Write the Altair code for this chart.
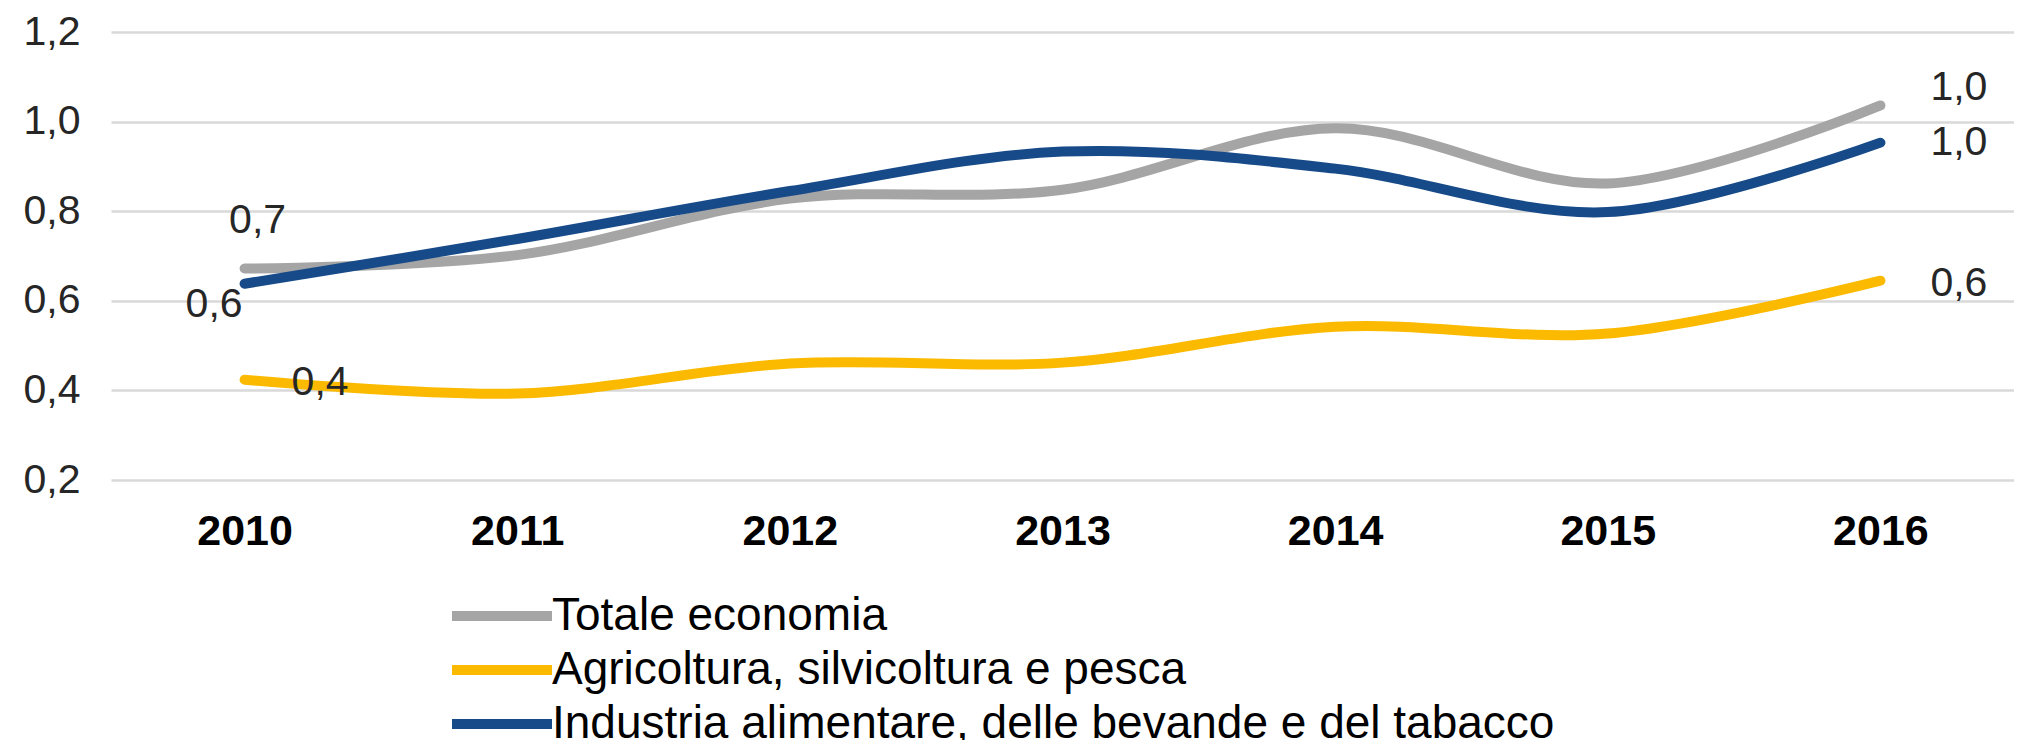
import altair as alt
import pandas as pd

years = ["2010", "2011", "2012", "2013", "2014", "2015", "2016"]
series_names = [
    "Totale economia",
    "Agricoltura, silvicoltura e pesca",
    "Industria alimentare, delle bevande e del tabacco",
]
totale = [0.672, 0.702, 0.828, 0.848, 0.985, 0.862, 1.036]
agricoltura = [0.424, 0.393, 0.460, 0.462, 0.542, 0.527, 0.645]
industria = [0.638, 0.738, 0.845, 0.933, 0.895, 0.798, 0.953]
colors = ["#A5A5A5", "#FBBA00", "#174A88"]
y_ticks = [0.2, 0.4, 0.6, 0.8, 1.0, 1.2]

rows = []
for name, vals in zip(series_names, [totale, agricoltura, industria]):
    for yr, v in zip(years, vals):
        rows.append({"anno": yr, "serie": name, "valore": v})
df = pd.DataFrame(rows)

FONT = "Liberation Sans"

x_enc = alt.X(
    "anno:O",
    sort=years,
    scale=alt.Scale(type="point", padding=0.49),
    axis=alt.Axis(
        title=None, labelAngle=0, domain=False, ticks=False, grid=False,
        labelFont=FONT, labelFontSize=43, labelFontWeight="bold",
        labelColor="#000000", labelPadding=30,
    ),
)
y_enc = alt.Y(
    "valore:Q",
    scale=alt.Scale(domain=[0.2, 1.2], nice=False, zero=False),
    axis=alt.Axis(
        title=None, values=y_ticks, domain=False, ticks=False,
        gridColor="#D9D9D9", gridWidth=2.5,
        labelFont=FONT, labelFontSize=41, labelColor="#262626", labelPadding=31,
        labelExpr="replace(format(datum.value, '.1f'), '.', ',')",
    ),
)

lines = alt.Chart(df).mark_line(
    interpolate="catmull-rom", strokeWidth=10, strokeCap="round"
).encode(
    x=x_enc,
    y=y_enc,
    color=alt.Color(
        "serie:N",
        scale=alt.Scale(domain=series_names, range=colors),
        sort=series_names,
        legend=alt.Legend(
            title=None, orient="none", legendX=368, legendY=561,
            direction="vertical",
            symbolType="M-5,0H5", symbolSize=400, symbolStrokeWidth=10,
            labelFont=FONT, labelFontSize=46, labelColor="#000000",
            labelOffset=27, labelLimit=2000, rowPadding=8, padding=0,
        ),
    ),
)

def label_layer(serie, anno, align, dx, dy):
    return alt.Chart(df).transform_filter(
        (alt.datum.serie == serie) & (alt.datum.anno == anno)
    ).transform_calculate(
        lab="replace(format(datum.valore, '.1f'), '.', ',')"
    ).mark_text(
        font=FONT, fontSize=41, color="#262626", align=align,
        baseline="middle", dx=dx, dy=dy,
    ).encode(x=alt.X("anno:O", sort=years), y="valore:Q", text="lab:N")

labels = [
    label_layer(series_names[0], "2010", "center", 13, -48),
    label_layer(series_names[2], "2010", "right", -2, 21),
    label_layer(series_names[1], "2010", "left", 47, 3),
    label_layer(series_names[0], "2016", "left", 50, -17),
    label_layer(series_names[2], "2016", "left", 50, 0),
    label_layer(series_names[1], "2016", "left", 50, 3),
]

chart = alt.layer(lines, *labels).properties(
    width=1903, height=448,
    autosize=alt.AutoSizeParams(type="none"),
    padding={"left": 103, "top": 24, "right": 0, "bottom": 260},
).configure_view(strokeWidth=0)

chart.save("out.html", embed_options={"renderer": "svg", "actions": False})
